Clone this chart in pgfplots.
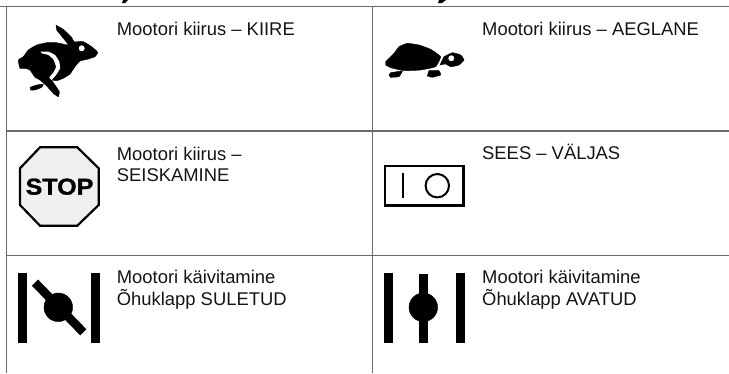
\documentclass[border=0pt]{standalone}
\usepackage{pgfplots}
\pgfplotsset{compat=1.18}
\usepackage{fontspec}
\setmainfont{Liberation Sans}
\newfontfamily\stopfont{Liberation Sans Bold}[FakeBold=1.2, FakeStretch=1.09]
\definecolor{gridc}{HTML}{6A6A6A}
\definecolor{txt}{HTML}{141414}
\definecolor{stopf}{HTML}{EFEFEF}
\tikzset{txtn/.style={anchor=base west, inner sep=0pt, text=txt, font=\fontsize{18.4}{21}\selectfont}}
\begin{document}
\begin{tikzpicture}
\begin{axis}[
  scale only axis, width=729pt, height=373pt,
  xmin=0, xmax=729, ymin=0, ymax=373, y dir=reverse,
  hide axis, clip=true,
  every axis plot/.append style={line cap=butt},
]
% clipped heading descenders
\addplot[black, fill=black, draw=none] coordinates {(122,3) (125,3) (128,0) (123,0)} -- cycle;
\addplot[black, fill=black, draw=none] coordinates {(438,3) (442,3) (446,0) (439,0)} -- cycle;
% grid
\addplot[gridc, line width=1.2pt] coordinates {(0,6.7) (729,6.7)};
\addplot[gridc, line width=1.3pt] coordinates {(6.7,6.7) (6.7,373)};
\addplot[gridc, line width=1.0pt] coordinates {(372.3,6.7) (372.3,373)};
\addplot[gridc, line width=1.1pt] coordinates {(6.7,131) (729,131)};
\addplot[gridc, line width=1.1pt] coordinates {(6.7,255.3) (729,255.3)};
% rabbit
\addplot[black, fill=black, smooth, tension=0.25] coordinates {
 (56,25.3) (63.3,29.3) (71.7,37.3) (74,41.7) (83.3,41.7) (91.7,46.7) (97.7,52.3) (95,56.7)
 (87.3,59.3) (80,61) (75,66.7) (70,74) (63.3,78.3) (56.7,80.7) (51.7,80) (55,85) (59.3,91.7)
 (58.3,96.7) (53.3,93.3) (46.7,86) (40,80) (35,77.3) (30,70) (25,68.3) (20,68.3) (18.3,60)
 (23.3,56.7) (28.3,50) (36.7,45) (46.7,42.7) (56.7,42.7) (68.3,45) (63.3,38.3) (56.7,30)
} -- cycle;
\addplot[white, fill=white, draw=none, smooth, tension=0.25] coordinates {
 (40.7,51.7) (48.3,51.7) (55,55) (59.3,61.7) (60,68.3) (56.7,74) (51.7,80) (49.3,77.3)
 (53.3,72.7) (56,66.7) (53.3,59.3) (48.3,55) (41.7,53.3)
} -- cycle;
\addplot[black, fill=black, smooth, tension=0.3] coordinates {
 (30,87.3) (36.7,85) (43.3,84.3) (41.7,87.3) (35,90) (30.7,90)
} -- cycle;
\addplot[only marks, mark=*, mark size=2.7pt, mark options={white, draw=white, fill=white}] coordinates {(81.7,48.3)};
% tortoise
\addplot[black, fill=black, smooth, tension=0.2] coordinates {
 (385.7,61.7) (394,53.3) (399,46.7) (407.3,43.3) (419,45) (430.7,49.3) (440.7,56.7)
 (435.7,66.7) (420.7,70) (404,70.7) (390.7,67.7) (385.7,65)
} -- cycle;
\addplot[black, fill=black, smooth, tension=0.25] coordinates {
 (444,56.7) (452.3,52.7) (460.7,55) (464,60) (459,65) (450.7,66.7) (445.7,64) (440,65)
} -- cycle;
\addplot[only marks, mark=*, mark size=2.7pt, mark options={white, draw=white, fill=white}] coordinates {(451.3,58.3)};
\addplot[black, fill=black, smooth, tension=0.2] coordinates {(390.7,72.7) (402.3,71) (399,76.7) (390.7,77.3) (389,75)} -- cycle;
\addplot[black, fill=black, smooth, tension=0.2] coordinates {(429,70.7) (439,70.7) (440.7,75) (432.3,77.3) (427.3,76)} -- cycle;
% stop
\addplot[black, fill=stopf, line width=2.2pt] coordinates {
 (40,147.3) (77.3,147.3) (98.7,168.3) (98.7,205) (77.3,225.7) (40,225.7) (20,205) (20,168.3)
} -- cycle;
\node[anchor=center, inner sep=0pt, text=black, font=\stopfont\fontsize{23}{24}\selectfont] at (axis cs:59.5,186.7) {STOP};
% switch
\addplot[black, line width=2.3pt] coordinates {(385,166) (463.5,166) (463.5,205.5) (385,205.5)} -- cycle;
\addplot[black, line width=1.8pt] coordinates {(403.3,173.3) (403.3,198.3)};
\addplot[only marks, mark=o, mark size=11.7pt, mark options={black, line width=2pt}] coordinates {(437.3,185.7)};
% choke closed
\addplot[black, line width=8.7pt] coordinates {(22.3,272.7) (22.3,342.7)};
\addplot[black, line width=8.7pt] coordinates {(95.3,272.7) (95.3,342.7)};
\addplot[black, line width=8.7pt] coordinates {(35,282.6) (83.3,332.3)};
\addplot[only marks, mark=*, mark size=14.3pt, mark options={black, draw=black, fill=black}] coordinates {(58.3,307.3)};
% choke open
\addplot[black, line width=8.7pt] coordinates {(388.3,272.7) (388.3,342.7)};
\addplot[black, line width=8.7pt] coordinates {(460.3,272.7) (460.3,342.7)};
\addplot[black, line width=8.7pt] coordinates {(423.3,274) (423.3,343.3)};
\addplot[only marks, mark=*, mark size=14.3pt, mark options={black, draw=black, fill=black}] coordinates {(423.3,307.3)};
% text
\node[txtn] at (axis cs:116.7,35) {Mootori kiirus – KIIRE};
\node[txtn] at (axis cs:482,35) {Mootori kiirus – AEGLANE};
\node[txtn] at (axis cs:116.7,160) {Mootori kiirus –};
\node[txtn] at (axis cs:116.7,181) {SEISKAMINE};
\node[txtn] at (axis cs:482,159) {SEES – VÄLJAS};
\node[txtn] at (axis cs:116.7,283) {Mootori käivitamine};
\node[txtn] at (axis cs:116.7,305) {Õhuklapp SULETUD};
\node[txtn] at (axis cs:482,283) {Mootori käivitamine};
\node[txtn] at (axis cs:482,305) {Õhuklapp AVATUD};
\end{axis}
\end{tikzpicture}
\end{document}
